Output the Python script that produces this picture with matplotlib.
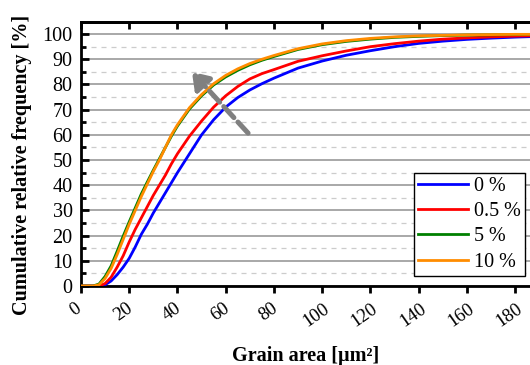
import numpy as np
import matplotlib
matplotlib.use('Agg')
import matplotlib.pyplot as plt
from matplotlib.ticker import MultipleLocator
from matplotlib.transforms import ScaledTranslation

plt.rcParams['font.family'] = ['Liberation Serif', 'DejaVu Serif']

# grain area [um^2]
area = [0, 5, 7.5, 10, 12.5, 15, 17.5, 20, 22.5, 25, 27.5, 30, 32.5, 35, 37.5, 40,
        45, 50, 55, 60, 65, 70, 75, 80, 90, 100, 110, 120, 130, 140, 150, 160, 170, 180, 190]

# cumulative relative frequency [%]
cdf_0 = [0, 0, 0, 0.5, 2, 4.5, 7.5, 11, 15.5, 20.5, 24.5, 29, 33, 37, 41, 45,
         52.5, 60, 66, 71, 74.8, 77.8, 80.3, 82.5, 86.5, 89.3, 91.6, 93.4, 95, 96.3, 97.2, 97.9, 98.4, 98.8, 99.1]
cdf_05 = [0, 0, 0, 1, 3.5, 7.5, 12, 17.5, 22.5, 27, 31.5, 36, 40, 44, 48.5, 52.5,
          59.5, 65.5, 71, 75.5, 79.2, 82.2, 84.3, 85.9, 89.2, 91.4, 93.3, 95, 96.2, 97.2, 98, 98.5, 98.9, 99.2, 99.4]
cdf_5 = [0, 0, 0.8, 3.8, 8, 13.8, 19.8, 25.5, 31, 36.5, 41.3, 46, 50.5, 55, 59.5, 63.5,
         70.3, 75.5, 79.8, 83, 85.6, 87.8, 89.6, 91.1, 93.9, 95.8, 97.1, 98, 98.7, 99.1, 99.4, 99.6, 99.7, 99.8, 99.9]
cdf_10 = [0, 0, 0.5, 3, 7, 12.5, 18.5, 24.5, 30, 35.5, 40.5, 45.5, 50, 55, 60, 64,
          70.8, 76, 80.3, 83.6, 86.2, 88.3, 90, 91.5, 94.2, 96.1, 97.4, 98.3, 98.9, 99.3, 99.5, 99.7, 99.8, 99.9, 99.9]

labels = ['0 %', '0.5 %', '5 %', '10 %']
colors = ['#0000ff', '#ff0000', '#008000', '#ff8c00']

fs = 14.5

fig = plt.figure(figsize=(5.3, 3.65), dpi=100)
ax = fig.add_axes([0.1528, 0.2164, 0.8472, 0.7233])

for y, lab, c in zip([cdf_0, cdf_05, cdf_5, cdf_10], labels, colors):
    ax.plot(area, y, color=c, lw=2, label=lab, zorder=3)

ax.set_xlim(0, 186.2)
ax.set_ylim(0, 104.8)

ax.xaxis.set_major_locator(MultipleLocator(20))
ax.yaxis.set_major_locator(MultipleLocator(10))
ax.yaxis.set_minor_locator(MultipleLocator(5))

ax.grid(which='major', axis='y', color='#999999', lw=1.2, zorder=0)
ax.grid(which='minor', axis='y', color='#cccccc', lw=0.9, ls=(0, (4, 4)), zorder=0)

for s in ['left', 'bottom', 'top']:
    ax.spines[s].set_linewidth(2)
    ax.spines[s].set_color('black')
ax.spines['right'].set_visible(False)

ax.tick_params(axis='x', which='major', direction='out', length=5, width=2,
               labelsize=13.5, pad=5)
ax.tick_params(axis='y', which='major', direction='in', length=6, width=2, labelsize=fs, pad=6)
ax.tick_params(axis='y', which='minor', direction='in', length=3.5, width=2)

# inward ticks on the top edge
sec = ax.secondary_xaxis('top')
sec.xaxis.set_major_locator(MultipleLocator(20))
sec.tick_params(direction='in', length=5, width=2, labeltop=False)
sec.spines['top'].set_linewidth(2)

shift = ScaledTranslation(-4 / 72, 0, fig.dpi_scale_trans)
for t in ax.get_xticklabels():
    t.set_rotation(35)
    t.set_ha('center')
    t.set_va('top')
    t.set_transform(t.get_transform() + shift)

ax.set_xlabel('Grain area [µm²]', fontsize=fs, fontweight='bold')
ax.xaxis.set_label_coords(0.5, -0.228)
ax.set_ylabel('Cumulative relative frequency [%]', fontsize=fs, fontweight='bold')
ax.yaxis.set_label_coords(-0.108, 0.46)

# trend arrow
ax.annotate('', xy=(46, 85), xytext=(69.3, 60.7),
            arrowprops=dict(arrowstyle='-|>,head_length=0.95,head_width=0.65', color='#808080',
                            lw=3.6, linestyle=(0, (3.0, 1.2)), shrinkA=0, shrinkB=0), zorder=4)

leg = ax.legend(loc='lower right', bbox_to_anchor=(0.989, 0.038), fontsize=fs,
                frameon=True, fancybox=False, edgecolor='black', framealpha=1,
                handlelength=2.45, handletextpad=0.3, labelspacing=0.3,
                borderpad=0.22, borderaxespad=0)
leg.get_frame().set_linewidth(1.0)
leg.set_zorder(5)

fig.savefig('out.png', dpi=100)
